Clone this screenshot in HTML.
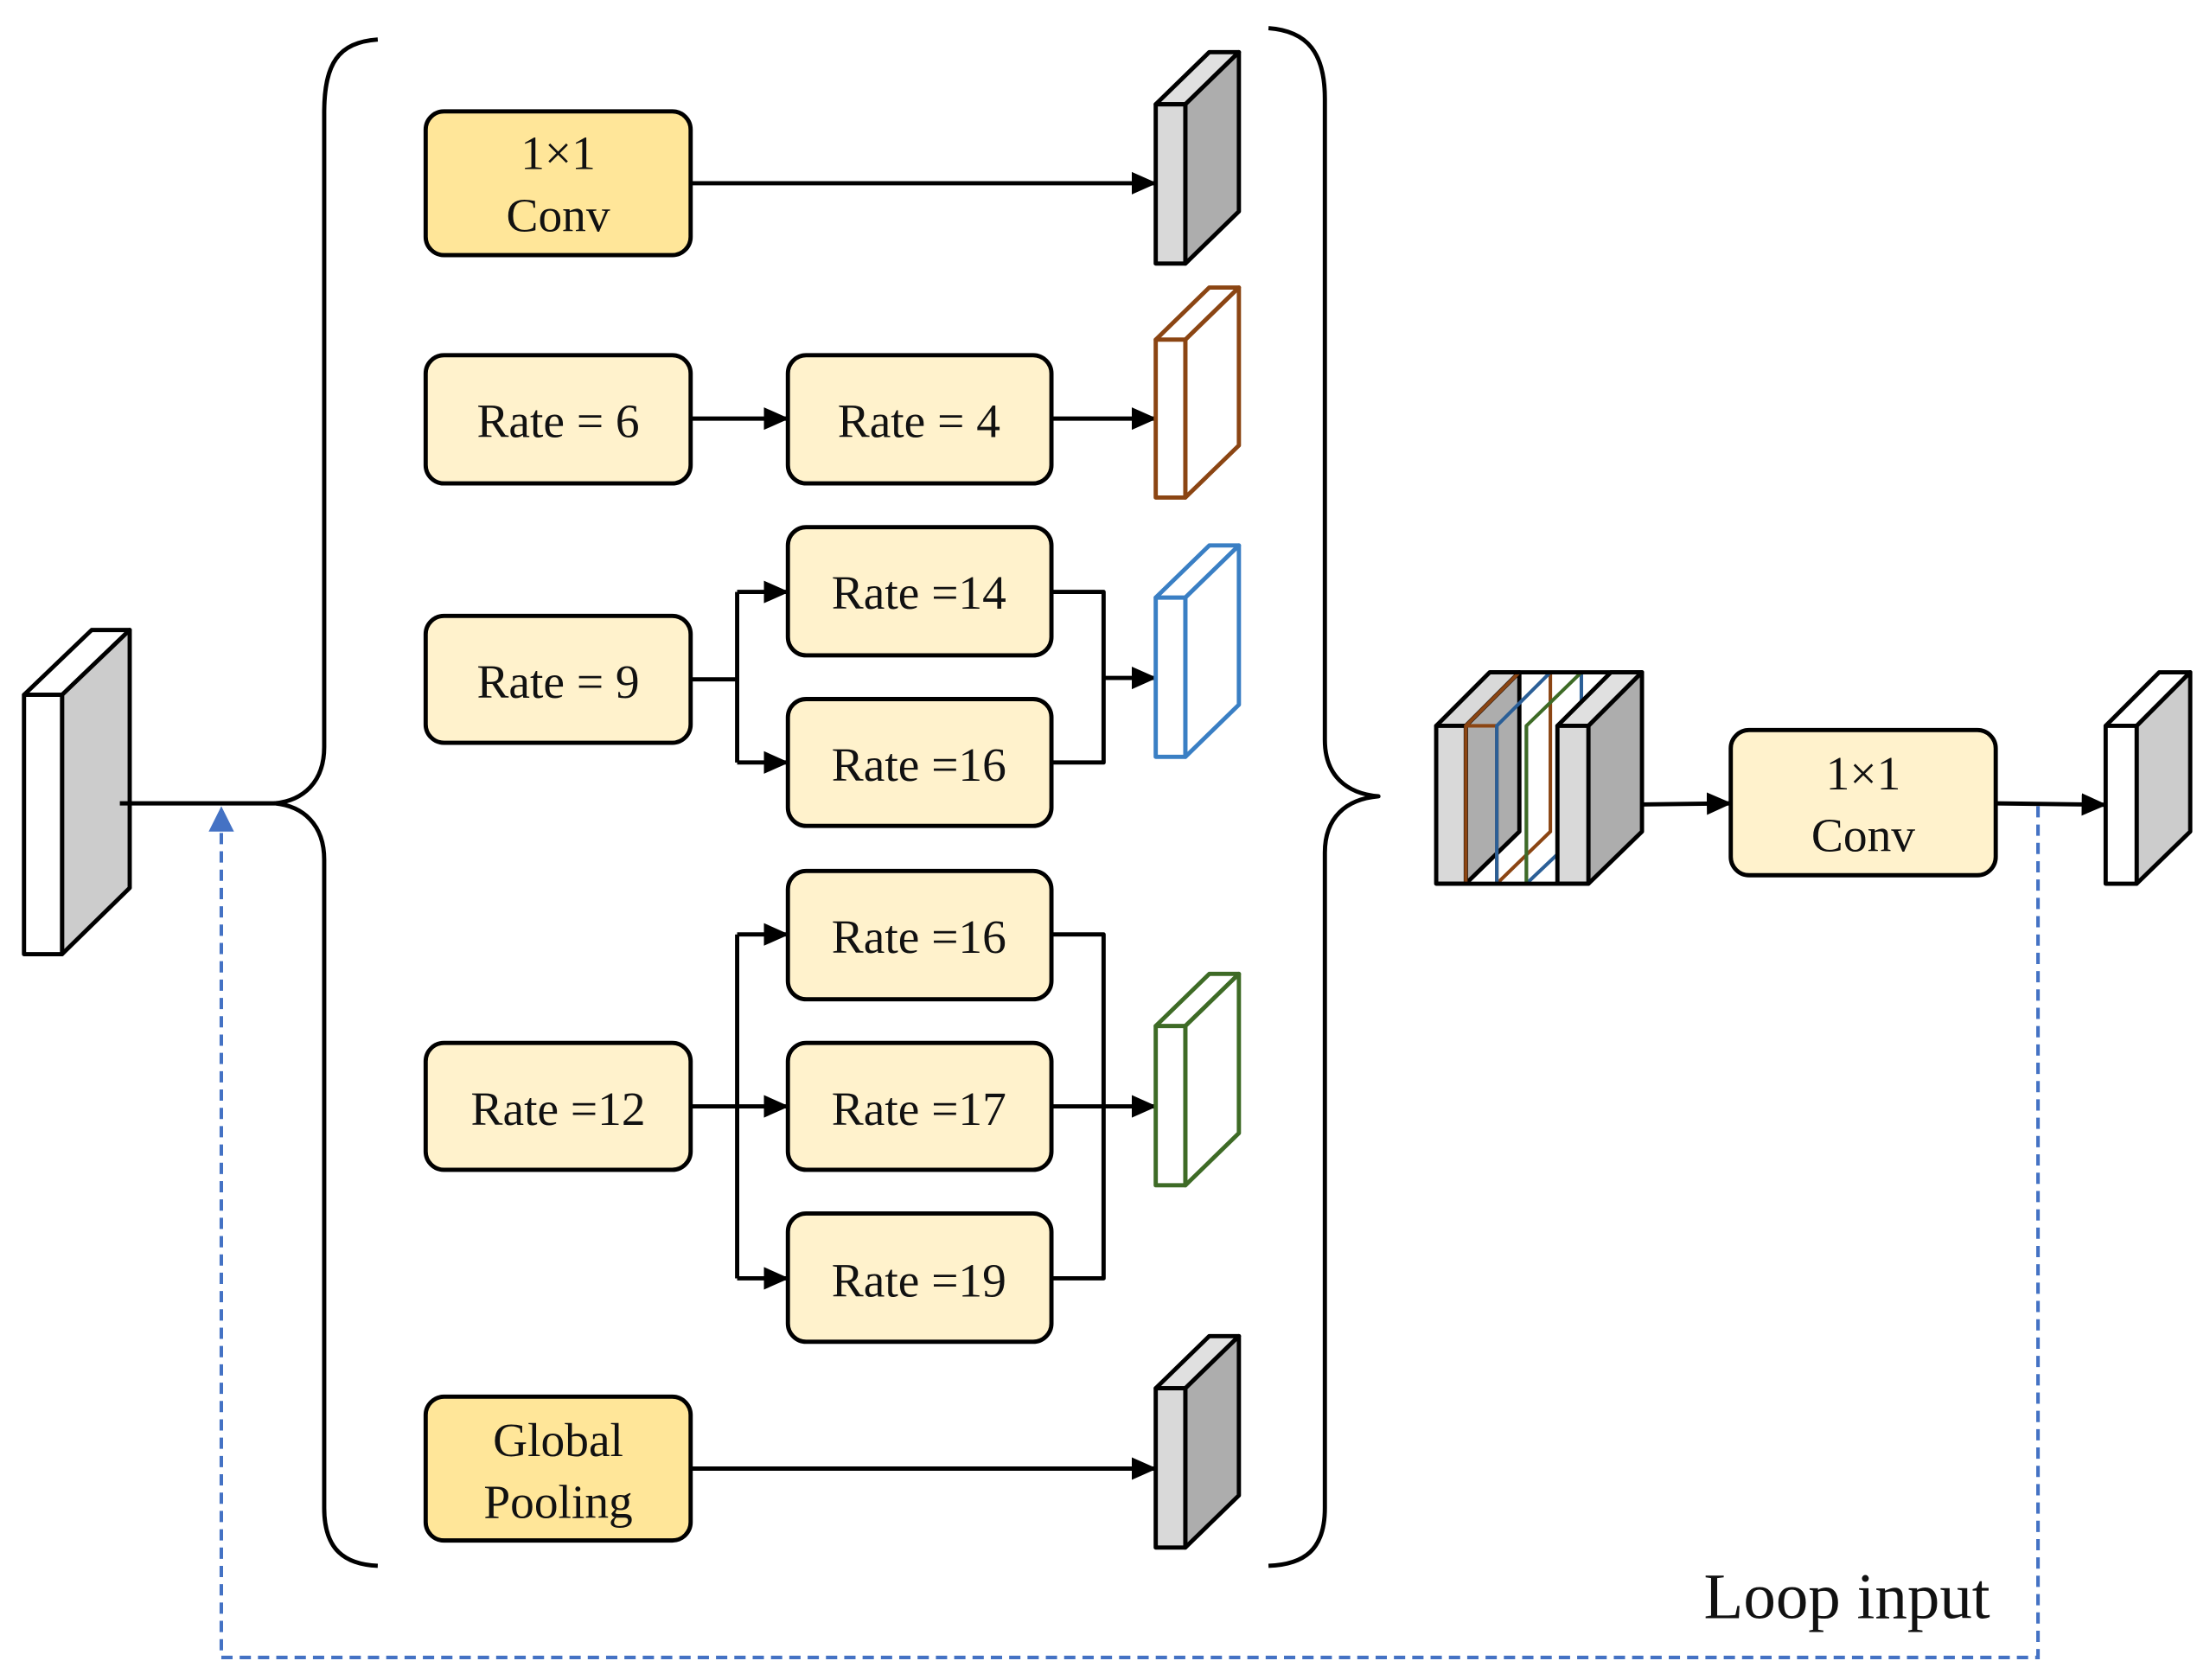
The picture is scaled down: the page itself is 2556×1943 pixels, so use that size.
<!DOCTYPE html>
<html><head><meta charset="utf-8"><style>
html,body{margin:0;padding:0;background:#fff}
svg{display:block}
text{font-family:"Liberation Serif",serif;fill:#111}
</style></head><body>
<svg width="2556" height="1943" viewBox="0 0 1568 1192" xmlns="http://www.w3.org/2000/svg">
<defs>
<marker id="ah" markerWidth="18" markerHeight="18" refX="17" refY="9" orient="auto" markerUnits="userSpaceOnUse" viewBox="0 0 18 18"><path d="M0,1 L18,9 L0,17 z" fill="#000"/></marker>
</defs>
<rect width="1568" height="1192" fill="#fff"/>
<g stroke="#000" stroke-width="3" fill="none" stroke-linejoin="round">
<polygon points="17,493 65,447 92,447 44,493" fill="#fff"/>
<polygon points="44,493 92,447 92,630 44,677" fill="#cccccc"/>
<rect x="17" y="493" width="27" height="184" fill="#fff"/>
<line x1="85" y1="570" x2="195" y2="570"/>
<path d="M268,28 C240,30 230,45 230,80 L230,530 C230,555 215,568 195,570 C215,572 230,585 230,610 L230,1070 C230,1100 245,1110 268,1111"/>
<path d="M900,20 C928,22 940,38 940,70 L940,525 C940,550 955,563 978,565 C955,567 940,580 940,605 L940,1070 C940,1100 925,1110 900,1111"/>
<rect x="302" y="79" width="188" height="102" rx="13" fill="#FFE699"/>
<rect x="302" y="252" width="188" height="91" rx="13" fill="#FFF2CC"/>
<rect x="559" y="252" width="187" height="91" rx="13" fill="#FFF2CC"/>
<rect x="302" y="437" width="188" height="90" rx="13" fill="#FFF2CC"/>
<rect x="559" y="374" width="187" height="91" rx="13" fill="#FFF2CC"/>
<rect x="559" y="496" width="187" height="90" rx="13" fill="#FFF2CC"/>
<rect x="302" y="740" width="188" height="90" rx="13" fill="#FFF2CC"/>
<rect x="559" y="618" width="187" height="91" rx="13" fill="#FFF2CC"/>
<rect x="559" y="740" width="187" height="90" rx="13" fill="#FFF2CC"/>
<rect x="559" y="861" width="187" height="91" rx="13" fill="#FFF2CC"/>
<rect x="302" y="991" width="188" height="102" rx="13" fill="#FFE699"/>
<rect x="1228" y="518" width="188" height="103" rx="13" fill="#FFF2CC"/>
<line x1="490" y1="130" x2="820" y2="130" marker-end="url(#ah)"/>
<line x1="490" y1="297" x2="559" y2="297" marker-end="url(#ah)"/>
<line x1="746" y1="297" x2="820" y2="297" marker-end="url(#ah)"/>
<polyline points="490,482 523,482"/>
<polyline points="523,420 523,541"/>
<line x1="523" y1="420" x2="559" y2="420" marker-end="url(#ah)"/>
<line x1="523" y1="541" x2="559" y2="541" marker-end="url(#ah)"/>
<polyline points="746,420 783,420 783,541 746,541"/>
<line x1="783" y1="481" x2="820" y2="481" marker-end="url(#ah)"/>
<line x1="490" y1="785" x2="559" y2="785" marker-end="url(#ah)"/>
<polyline points="523,663 523,907"/>
<line x1="523" y1="663" x2="559" y2="663" marker-end="url(#ah)"/>
<line x1="523" y1="907" x2="559" y2="907" marker-end="url(#ah)"/>
<polyline points="746,663 783,663 783,907 746,907"/>
<line x1="746" y1="785" x2="820" y2="785" marker-end="url(#ah)"/>
<line x1="490" y1="1042" x2="820" y2="1042" marker-end="url(#ah)"/>
<line x1="1150" y1="571" x2="1228" y2="570" marker-end="url(#ah)"/>
<line x1="1416" y1="570" x2="1494" y2="571" marker-end="url(#ah)"/>
<polygon points="820,74 858,37 879,37 841,74" fill="#e0e0e0"/>
<polygon points="841,74 879,37 879,150 841,187" fill="#adadad"/>
<rect x="820" y="74" width="21" height="113" fill="#d9d9d9"/>
</g>
<g stroke="#8B4513" stroke-width="3" fill="#fff" stroke-linejoin="round">
<polygon points="820,241 858,204 879,204 841,241"/>
<polygon points="841,241 879,204 879,316 841,353"/>
<rect x="820" y="241" width="21" height="112"/>
</g>
<g stroke="#3A7FC4" stroke-width="3" fill="#fff" stroke-linejoin="round">
<polygon points="820,424 858,387 879,387 841,424"/>
<polygon points="841,424 879,387 879,500 841,537"/>
<rect x="820" y="424" width="21" height="113"/>
</g>
<g stroke="#3E6B26" stroke-width="3" fill="#fff" stroke-linejoin="round">
<polygon points="820,728 858,691 879,691 841,728"/>
<polygon points="841,728 879,691 879,804 841,841"/>
<rect x="820" y="728" width="21" height="113"/>
</g>
<g stroke="#000" stroke-width="3" stroke-linejoin="round">
<polygon points="820,985 858,948 879,948 841,985" fill="#e0e0e0"/>
<polygon points="841,985 879,948 879,1061 841,1098" fill="#adadad"/>
<rect x="820" y="985" width="21" height="113" fill="#d9d9d9"/>
<polygon points="1494,515 1532,477 1554,477 1516,515" fill="#fff"/>
<polygon points="1516,515 1554,477 1554,590 1516,627" fill="#cccccc"/>
<rect x="1494" y="515" width="22" height="112" fill="#fff"/>
<polygon points="1019,515 1057,477 1078,477 1040,515" fill="#d9d9d9"/>
<polygon points="1040,515 1078,477 1078,590 1040,627" fill="#adadad"/>
<rect x="1019" y="515" width="21" height="112" fill="#d9d9d9"/>
</g>
<g stroke-width="2.5" fill="none">
<polygon stroke="#8B4513" points="1040,515 1078,477 1100,477 1100,590 1062,627 1040,627"/>
<line stroke="#8B4513" x1="1062" y1="515" x2="1062" y2="627"/>
<line stroke="#8B4513" x1="1040" y1="515" x2="1062" y2="515"/>
<polygon stroke="#2B5F97" points="1062,515 1100,477 1122,477 1122,590 1083,627 1062,627"/>
<line stroke="#2B5F97" x1="1083" y1="515" x2="1083" y2="627"/>
<polygon stroke="#3E6B26" points="1083,515 1122,477 1143,477 1143,590 1105,627 1083,627"/>
</g>
<g stroke="#000" stroke-width="3" stroke-linejoin="round">
<polygon points="1105,515 1143,477 1165,477 1127,515" fill="#e0e0e0"/>
<polygon points="1127,515 1165,477 1165,590 1127,627" fill="#adadad"/>
<rect x="1105" y="515" width="22" height="112" fill="#d9d9d9"/>
<line x1="1019" y1="627" x2="1127" y2="627"/>
<line x1="1057" y1="477" x2="1165" y2="477"/>
</g>
<polyline points="1446,572 1446,1176 157,1176 157,588" fill="none" stroke="#4472C4" stroke-width="2.5" stroke-dasharray="8,5"/>
<polygon points="148,590 157,572 166,590" fill="#4472C4"/>
<g font-size="34" text-anchor="middle">
<text x="396" y="120">1×1</text>
<text x="396" y="164">Conv</text>
<text x="396" y="310">Rate = 6</text>
<text x="652" y="310">Rate = 4</text>
<text x="396" y="495">Rate = 9</text>
<text x="652" y="432">Rate =14</text>
<text x="652" y="554">Rate =16</text>
<text x="396" y="798">Rate =12</text>
<text x="652" y="676">Rate =16</text>
<text x="652" y="798">Rate =17</text>
<text x="652" y="920">Rate =19</text>
<text x="396" y="1033">Global</text>
<text x="396" y="1077">Pooling</text>
<text x="1322" y="560">1×1</text>
<text x="1322" y="604">Conv</text>
</g>
<text x="1412" y="1148" font-size="46" text-anchor="end">Loop input</text>
</svg>
</body></html>
